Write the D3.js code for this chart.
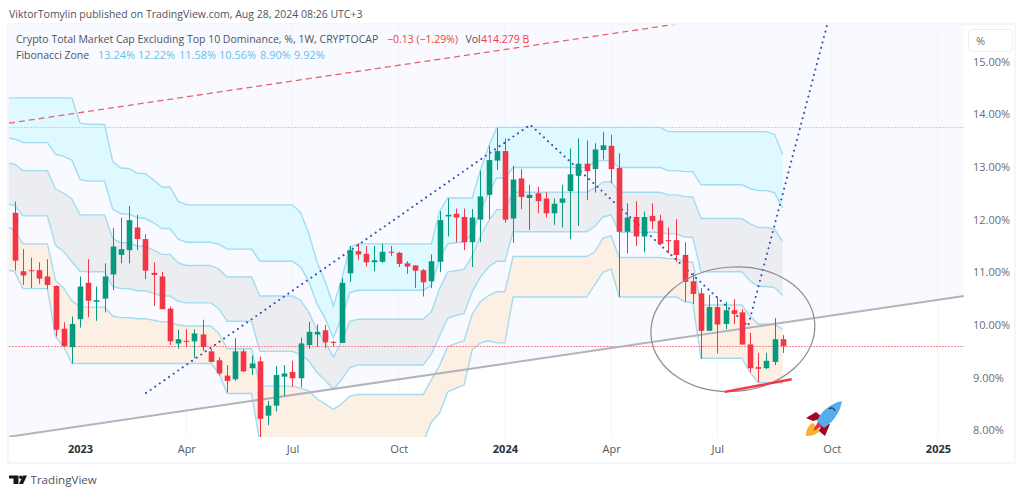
<!DOCTYPE html>
<html>
<head>
<meta charset="utf-8">
<script src="https://cdn.jsdelivr.net/npm/d3@7"></script>
<style>
html, body { margin: 0; padding: 0; background: #fff; overflow: hidden; }
svg { display: block; font-family: "Open Sans", sans-serif; }
</style>
</head>
<body>
<div id="chart"></div>
<script>
// weekly candles, week 0 is the first bar fully on screen
const opens = [12.13,11.02,11.04,11.04,10.92,10.74,9.93,9.58,10.11,10.80,
  10.44,10.50,10.96,11.33,11.42,11.85,11.63,10.99,10.92,10.31,
  9.65,9.70,9.69,9.82,9.50,9.33,9.04,8.97,9.50,9.18,
  9.31,8.28,8.47,9.02,9.11,8.99,9.62,9.82,9.90,9.68,
  9.66,10.98,11.40,11.35,11.19,11.20,11.39,11.37,11.17,11.13,
  11.04,10.83,11.20,12.06,12.11,12.05,11.57,12.00,12.47,13.12,
  13.30,12.02,12.78,12.41,12.50,12.40,12.12,12.32,12.54,12.83,
  13.06,12.96,13.32,13.40,12.98,11.77,12.05,11.68,12.07,11.98,
  11.61,11.61,11.33,10.83,10.60,9.89,10.34,10.02,10.28,10.24,
  9.63,9.20,9.18,9.30,9.73];
const closes = [11.22,10.94,11.02,10.88,10.76,9.91,9.60,10.02,10.73,10.46,
  10.47,10.92,11.49,11.44,11.99,11.63,11.03,10.95,10.30,9.69,
  9.73,9.68,9.84,9.58,9.30,9.08,8.94,9.50,9.12,9.27,
  8.22,8.47,9.05,9.08,8.99,9.65,9.87,9.87,9.67,9.66,
  10.80,11.42,11.34,11.19,11.23,11.39,11.37,11.16,11.11,11.03,
  10.81,11.21,11.99,12.09,12.04,11.57,12.04,12.44,13.13,13.30,
  12.00,12.76,12.43,12.47,12.35,12.12,12.30,12.40,12.86,13.06,
  12.92,13.33,13.41,12.96,11.77,12.04,11.68,12.05,11.97,11.54,
  11.60,11.33,10.82,10.59,9.89,10.34,10.01,10.28,10.21,9.63,
  9.18,9.17,9.32,9.73,9.60];
const highs = [12.34,11.44,11.28,11.19,11.25,10.75,10.05,10.16,10.92,11.25,
  10.73,11.17,11.84,12.04,12.26,12.09,11.72,11.19,11.01,10.35,
  9.91,9.92,9.92,10.10,9.55,9.39,9.24,9.75,9.54,9.42,
  9.40,8.56,9.22,9.24,9.32,9.76,10.06,10.01,10.00,9.70,
  10.89,11.50,11.55,11.50,11.50,11.54,11.50,11.39,11.21,11.13,
  11.06,11.34,12.16,12.40,12.21,12.21,12.20,12.93,13.40,13.73,
  13.54,13.02,12.96,12.66,12.62,12.52,12.40,12.66,13.35,13.54,
  13.50,13.45,13.66,13.61,13.26,12.31,12.35,12.15,12.31,12.09,
  11.85,12.01,11.57,10.99,10.70,10.57,10.53,10.44,10.49,10.30,
  9.85,9.47,9.47,10.13,9.81];
const lows = [11.03,10.76,10.70,10.78,10.68,9.78,9.58,9.27,9.95,10.15,
  10.08,10.24,10.66,11.17,11.17,11.42,10.87,10.36,10.30,9.62,
  9.55,9.58,9.37,9.51,9.29,9.04,8.72,8.94,9.11,9.05,
  7.72,8.10,8.36,8.66,8.83,8.82,9.55,9.59,9.56,9.59,
  9.66,10.82,11.23,11.11,11.02,11.18,11.31,11.10,10.97,10.70,
  10.54,10.70,11.00,11.68,11.57,11.42,11.10,11.57,12.01,12.94,
  11.94,11.56,12.20,11.80,12.12,12.04,11.90,11.85,11.63,11.88,
  12.37,12.51,13.14,12.69,10.53,11.36,11.50,11.38,11.82,11.52,
  11.36,11.20,10.44,10.40,9.36,9.89,9.46,9.92,10.02,9.63,
  9.10,8.91,9.16,9.24,9.47];

// fibonacci zone lines, these start one week earlier (week -1) so they reach the left edge
const zone1 = [14.31,14.31,14.31,14.31,14.31,14.31,14.31,14.31,14.31,
  13.83,13.81,13.81,13.80,13.10,12.98,12.97,12.88,12.87,12.75,12.62,12.62,12.35,
  12.28,12.28,12.28,12.28,12.28,12.28,12.28,12.28,12.28,12.28,12.28,12.28,12.28,12.28,
  12.13,11.73,11.20,10.83,10.36,10.85,11.48,
  11.54,11.54,11.54,11.54,11.54,11.54,11.54,11.54,11.54,11.54,
  12.15,12.41,12.41,12.41,12.41,12.94,13.38,
  13.75,13.75,13.75,13.75,13.75,13.75,13.75,13.75,13.75,13.75,13.75,
  13.75,13.75,13.75,13.75,13.75,13.75,13.75,13.75,13.75,13.75,
  13.67,13.67,13.67,13.67,13.67,13.67,13.67,13.67,13.67,13.67,13.67,13.67,13.67,
  13.62,13.24];
const zone2 = [13.55,13.53,13.46,13.46,13.46,13.46,13.24,13.20,13.13,
  12.76,12.73,12.73,12.73,12.20,12.11,12.10,12.04,12.02,11.94,11.83,11.83,11.63,
  11.57,11.57,11.57,11.57,11.53,11.44,11.44,11.44,11.44,11.21,11.21,11.21,11.21,11.21,
  11.10,10.82,10.40,10.12,9.76,10.13,10.61,
  10.66,10.66,10.66,10.66,10.66,10.66,10.66,10.66,10.66,10.75,
  11.25,11.54,11.56,11.57,11.73,12.16,12.51,
  12.79,12.79,12.99,12.99,12.99,12.99,12.99,12.99,12.99,12.99,12.99,
  12.99,13.10,13.12,13.12,12.99,12.99,12.99,12.99,12.99,12.99,
  12.93,12.93,12.91,12.91,12.66,12.66,12.66,12.66,12.66,12.66,12.59,12.55,12.55,
  12.51,12.22];
const zone3 = [13.08,13.05,12.93,12.93,12.93,12.93,12.58,12.50,12.39,
  12.09,12.09,12.09,12.09,11.64,11.56,11.56,11.50,11.49,11.42,11.34,11.34,11.18,
  11.13,11.13,11.13,11.13,11.06,10.91,10.91,10.91,10.91,10.55,10.55,10.55,10.55,10.55,
  10.47,10.24,9.90,9.67,9.39,9.68,10.07,
  10.11,10.11,10.11,10.11,10.11,10.11,10.11,10.11,10.11,10.25,
  10.69,11.01,11.03,11.06,11.31,11.69,11.97,
  12.19,12.19,12.52,12.52,12.52,12.52,12.52,12.52,12.52,12.52,12.52,
  12.52,12.60,12.71,12.72,12.52,12.52,12.52,12.52,12.52,12.52,
  12.47,12.47,12.44,12.43,12.02,12.02,12.02,12.02,12.02,12.02,11.92,11.85,11.85,
  11.82,11.58];
const zone4 = [12.30,12.27,12.07,12.07,12.07,12.07,11.51,11.39,11.20,
  11.02,11.01,11.01,11.01,10.73,10.69,10.69,10.65,10.65,10.60,10.55,10.55,10.45,
  10.42,10.42,10.42,10.42,10.31,10.07,10.07,10.07,10.07,9.50,9.50,9.50,9.50,9.50,
  9.44,9.32,9.10,8.95,8.78,8.96,9.19,
  9.24,9.24,9.24,9.24,9.24,9.24,9.24,9.24,9.24,9.45,
  9.79,10.13,10.18,10.22,10.63,10.91,11.10,
  11.21,11.21,11.77,11.77,11.77,11.77,11.77,11.77,11.77,11.77,11.77,
  11.77,11.87,12.05,12.09,11.76,11.76,11.76,11.76,11.76,11.76,
  11.73,11.73,11.67,11.66,11.01,11.01,11.01,11.01,11.01,11.01,10.84,10.73,10.73,
  10.71,10.56];
const zone5 = [11.88,11.79,11.54,11.54,11.54,11.54,10.84,10.70,10.46,
  10.35,10.34,10.34,10.34,10.17,10.14,10.14,10.12,10.12,10.09,10.06,10.06,10.00,
  9.98,9.98,9.98,9.98,9.84,9.55,9.55,9.55,9.55,8.84,8.84,8.84,8.84,8.84,
  8.80,8.75,8.60,8.50,8.40,8.50,8.65,
  8.68,8.68,8.68,8.68,8.68,8.68,8.68,8.68,8.68,8.96,
  9.23,9.59,9.65,9.70,10.21,10.44,10.56,
  10.63,10.63,11.30,11.30,11.30,11.30,11.30,11.30,11.30,11.30,11.30,
  11.30,11.39,11.65,11.69,11.28,11.28,11.28,11.28,11.28,11.28,
  11.26,11.26,11.20,11.19,10.38,10.38,10.38,10.38,10.38,10.38,10.17,10.02,10.02,
  10.01,9.92];
const zone6 = [11.05,11.01,10.69,10.69,10.69,10.69,9.78,9.59,9.27,
  9.27,9.27,9.27,9.27,9.27,9.27,9.27,9.27,9.27,9.27,9.27,9.27,9.27,
  9.27,9.27,9.27,9.27,9.09,8.70,8.70,8.70,8.70,7.78,7.78,7.78,7.78,7.78,
  7.78,7.78,7.78,7.78,7.78,7.78,7.78,
  7.78,7.78,7.78,7.78,7.78,7.78,7.78,7.78,7.78,8.16,
  8.33,8.73,8.80,8.86,9.53,9.66,9.70,
  9.66,9.66,10.53,10.53,10.53,10.53,10.53,10.53,10.53,10.53,10.53,
  10.53,10.76,11.00,11.06,10.53,10.53,10.53,10.53,10.53,10.53,
  10.53,10.53,10.44,10.42,9.37,9.37,9.37,9.37,9.37,9.37,9.10,8.91,8.91,
  8.91,8.90];

// hand drawn lines on the chart, as [week, percent]
const trendGray = [[-0.7, 7.88], [116.2, 10.55]];
const trendRed = [[-0.7, 13.83], [81.4, 15.72]];
const bottomRed = [[86.9, 8.73], [95.1, 8.97]];
const dottedBlue = [[16.07, 8.71], [63.1, 13.80], [89.76, 9.98], [99.7, 15.85]];
const ellipseCenter = [87.9, 9.92];
const ellipseRadius = [10.05, 1.18];
const lastClose = 9.60;
const highLevel = 13.75;

const priceTicks = [8, 9, 10, 11, 12, 13, 14, 15];
const timeTickWeeks = [8, 21, 34, 47, 60, 73, 86, 100, 113];
const timeTickLabels = ['2023', 'Apr', 'Jul', 'Oct', '2024', 'Apr', 'Jul', 'Oct', '2025'];
const yearLabels = ['2023', '2024', '2025'];
const zoneLabels = ['13.24%', '12.22%', '11.58%', '10.56%', '8.90%', '9.92%'];

const width = 1024, height = 496;
const plotLeft = 9, plotRight = 964, plotTop = 24.5, plotBottom = 437;

const x = d3.scaleLinear().domain([0, 94]).range([14.7, 782.7]);
const y = d3.scaleLinear().domain([8, 15]).range([430.4, 61.5]);

const svg = d3.select('#chart').append('svg').attr('width', width).attr('height', height);

svg.append('clipPath').attr('id', 'plot').append('rect')
  .attr('x', plotLeft).attr('y', plotTop).attr('width', plotRight - plotLeft).attr('height', plotBottom - plotTop);

const plot = svg.append('g').attr('clip-path', 'url(#plot)');

// tinted background, only above the gray trend line
const p0 = trendGray[0], p1 = trendGray[1];
plot.append('path')
  .attr('fill', '#f8faff')
  .attr('d', `M${x(p0[0])},${y(p0[1])}L${x(p1[0])},${y(p1[1])}L${plotRight},${plotTop}L${plotLeft},${plotTop}Z`);

// vertical grid
plot.selectAll('line.grid').data(timeTickWeeks).enter().append('line')
  .attr('class', 'grid')
  .attr('x1', d => x(d)).attr('x2', d => x(d))
  .attr('y1', plotTop).attr('y2', plotBottom)
  .attr('stroke', '#f3f4f9').attr('stroke-width', 1);

// fibonacci zone fills and lines
const zoneWeeks = zone1.map((d, i) => i - 1);
const zoneArea = (upper, lower) => d3.area()
  .x((d, i) => x(zoneWeeks[i]))
  .y0((d, i) => y(lower[i]))
  .y1((d, i) => y(upper[i]))(zoneWeeks);
const zoneLine = vals => d3.line()
  .x((d, i) => x(zoneWeeks[i]))
  .y((d, i) => y(vals[i]))(zoneWeeks);

plot.append('path').attr('d', zoneArea(zone1, zone2)).attr('fill', '#def9ff');
plot.append('path').attr('d', zoneArea(zone3, zone4)).attr('fill', '#ecedf1');
plot.append('path').attr('d', zoneArea(zone5, zone6)).attr('fill', '#fcefe4');
[zone1, zone2, zone3, zone4, zone5, zone6].forEach(z => {
  plot.append('path').attr('d', zoneLine(z))
    .attr('fill', 'none').attr('stroke', '#a3dcf1').attr('stroke-width', 1.4);
});

// horizontal levels, snapped so the dots stay crisp
const levelY = v => Math.round(y(v)) + 0.5;
plot.append('line')
  .attr('x1', plotLeft).attr('x2', plotRight).attr('y1', levelY(highLevel)).attr('y2', levelY(highLevel))
  .attr('stroke', '#cfd1d7').attr('stroke-width', 1).attr('stroke-dasharray', '2 1');
plot.append('line')
  .attr('x1', plotLeft).attr('x2', plotRight).attr('y1', levelY(lastClose)).attr('y2', levelY(lastClose))
  .attr('stroke', '#f58a92').attr('stroke-width', 1).attr('stroke-dasharray', '2 1');

const line = d3.line().x(d => x(d[0])).y(d => y(d[1]));

plot.append('path').attr('d', line(trendRed))
  .attr('fill', 'none').attr('stroke', '#e9636b').attr('stroke-width', 1.3).attr('stroke-dasharray', '6 4');
plot.append('path').attr('d', line(trendGray))
  .attr('fill', 'none').attr('stroke', '#b3b3ba').attr('stroke-width', 2);
plot.append('path').attr('d', line(dottedBlue))
  .attr('fill', 'none').attr('stroke', '#2f50b4').attr('stroke-width', 2)
  .attr('stroke-linecap', 'round').attr('stroke-dasharray', '0.1 5.5');

// candles
const candles = opens.map((o, i) => ({ week: i, o: o, c: closes[i], h: highs[i], l: lows[i] }));
const bodyW = 5.6;
const candle = plot.selectAll('g.candle').data(candles).enter().append('g').attr('class', 'candle');
candle.append('line')
  .attr('x1', d => Math.round(x(d.week)) + 0.5).attr('x2', d => Math.round(x(d.week)) + 0.5)
  .attr('y1', d => y(d.h)).attr('y2', d => y(d.l))
  .attr('stroke', d => d.c >= d.o ? '#089981' : '#f23645').attr('stroke-width', 1);
candle.append('rect')
  .attr('x', d => Math.round(x(d.week)) + 0.5 - bodyW / 2)
  .attr('width', bodyW)
  .attr('y', d => y(Math.max(d.o, d.c)))
  .attr('height', d => Math.max(1, y(Math.min(d.o, d.c)) - y(Math.max(d.o, d.c))))
  .attr('fill', d => d.c >= d.o ? '#089981' : '#f23645');

// circle and the red support stroke
plot.append('ellipse')
  .attr('cx', x(ellipseCenter[0])).attr('cy', y(ellipseCenter[1]))
  .attr('rx', x(ellipseRadius[0]) - x(0)).attr('ry', y(0) - y(ellipseRadius[1]))
  .attr('transform', `rotate(-5 ${x(ellipseCenter[0])} ${y(ellipseCenter[1])})`)
  .attr('fill', 'none').attr('stroke', '#8a8a90').attr('stroke-width', 1.2);
plot.append('path').attr('d', line(bottomRed))
  .attr('fill', 'none').attr('stroke', '#f23645').attr('stroke-width', 2.4);

// rocket
const rocket = svg.append('g');
rocket.append('path').attr('fill', '#ffac33').attr('d', 'M806 436C806 430 808 425 813 423L820 430C817 435 811 436 806 436Z');
rocket.append('path').attr('fill', '#a0041e').attr('d', 'M806 418L816 412L823 418L813 421Z');
rocket.append('path').attr('fill', '#a0041e').attr('d', 'M822 424L830 424L825 436L819 431Z');
rocket.append('path').attr('fill', '#dd2e44').attr('d', 'M813 431L820 418L826 424Z');
rocket.append('path').attr('fill', '#55acee').attr('d', 'M817 421C821 411 830 404 842 401C840 413 833 422 824 428Z');
rocket.append('path').attr('fill', 'none').attr('stroke', '#292f33').attr('stroke-width', 1.2).attr('d', 'M829 409Q833 406 835 411');

// frame
svg.append('rect')
  .attr('x', 8).attr('y', 24).attr('width', 1007).attr('height', 439)
  .attr('fill', 'none').attr('stroke', '#f0f3fa').attr('stroke-width', 1.5);

// axes
const yAxis = d3.axisRight(y).tickValues(priceTicks).tickSize(0).tickPadding(0)
  .tickFormat(d => d.toFixed(2) + '%');
const yG = svg.append('g').attr('transform', 'translate(973,0)').call(yAxis);
yG.select('.domain').remove();
yG.selectAll('text').attr('fill', '#6a6d78').style('font-size', '11px')
  .style('font-family', '"Open Sans", sans-serif');

const xAxis = d3.axisBottom(x).tickValues(timeTickWeeks).tickSize(0).tickPadding(0)
  .tickFormat((d, i) => timeTickLabels[i]);
const xG = svg.append('g').attr('transform', 'translate(0,445)').call(xAxis);
xG.select('.domain').remove();
xG.selectAll('text')
  .attr('fill', (d, i) => yearLabels.includes(timeTickLabels[i]) ? '#2a2e39' : '#555863')
  .style('font-weight', (d, i) => yearLabels.includes(timeTickLabels[i]) ? 700 : 400)
  .style('font-size', '11px')
  .style('font-family', '"Open Sans", sans-serif');

// % button
svg.append('rect').attr('x', 968.5).attr('y', 29.5).attr('width', 44).attr('height', 22).attr('rx', 4)
  .attr('fill', '#fff').attr('stroke', '#eceef3');
svg.append('text').attr('x', 976).attr('y', 45).attr('fill', '#6a6d78').style('font-size', '11px').text('%');

// header
const text = (tx, ty, s, color, size) => svg.append('text')
  .attr('x', tx).attr('y', ty).attr('fill', color).style('font-size', size + 'px').text(s);

text(9, 18, 'ViktorTomylin published on TradingView.com, Aug 28, 2024 08:26 UTC+3', '#50535e', 10.5);
text(16, 43, 'Crypto Total Market Cap Excluding Top 10 Dominance, %, 1W, CRYPTOCAP', '#50535e', 10.5);
text(387, 43, '\u22120.13 (\u22121.29%)', '#f23645', 10.5);
text(465.5, 43, 'Vol', '#50535e', 10.5);
text(481, 43, '414.279 B', '#f23645', 10.5);
text(16, 59, 'Fibonacci Zone', '#50535e', 10.5);
const zoneX = [98, 138, 179, 219, 260, 294];
zoneLabels.forEach((s, i) => text(zoneX[i], 59, s, '#64bfe8', 11));

// logo
const logo = svg.append('g').attr('fill', '#131722');
logo.append('path').attr('d', 'M9 475.5H18.5V484H13.5V478.5H9Z');
logo.append('circle').attr('cx', 20.8).attr('cy', 477.2).attr('r', 1.7);
logo.append('path').attr('d', 'M19 484L23 475.5H27L23 484Z');
text(30.5, 484, 'TradingView', '#50535e', 11.6);
</script>
</body>
</html>
